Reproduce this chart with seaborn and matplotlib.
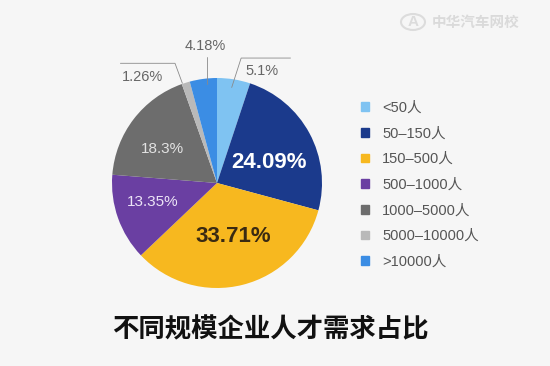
import matplotlib
matplotlib.use("Agg")
import matplotlib.pyplot as plt
import matplotlib.patches as mpatches
import seaborn as sns

# dati del grafico
categorie = ["<50人", "50–150人", "150–500人", "500–1000人", "1000–5000人", "5000–10000人", ">10000人"]
percentuali = [5.1, 24.09, 33.71, 13.35, 18.3, 1.26, 4.18]
colori = ["#7fc3f2", "#1b3a8c", "#f7b81f", "#6a3fa2", "#6d6d6d", "#b9b9b9", "#3b8de4"]
titolo = "不同规模企业人才需求占比"
marchio = "中华汽车网校"

sns.set_theme(style="white")
plt.rcParams["font.family"] = ["Liberation Sans", "Noto Sans CJK SC", "DejaVu Sans"]

sfondo = "#f6f6f6"
fig = plt.figure(figsize=(5.5, 3.66), dpi=100, facecolor=sfondo)

# torta: centro (217,183) px, raggio 105 px
ax = fig.add_axes([112 / 550, 1 - 288 / 366, 210 / 550, 210 / 366])
ax.set_facecolor(sfondo)
spicchi, _ = ax.pie(percentuali, colors=colori, startangle=90, counterclock=False,
                    wedgeprops=dict(linewidth=0))
ax.set_xlim(-1, 1)
ax.set_ylim(-1, 1)
ax.set_aspect("equal")
ax.axis("off")

etichette = [f"{p:g}%" for p in percentuali]

# etichette interne
ax.text(0.50, 0.20, etichette[1], color="white", fontsize=16, fontweight="bold", ha="center", va="center")
ax.text(0.15, -0.51, etichette[2], color="#3a2a12", fontsize=16, fontweight="bold", ha="center", va="center")
ax.text(-0.52, 0.32, etichette[4], color="#e2e2e2", fontsize=11, ha="center", va="center")
ax.text(-0.61, -0.18, etichette[3], color="#ece4f6", fontsize=11, ha="center", va="center")

# etichette esterne con linee guida
grigio = "#8a8a8a"
ax.plot([0.14, 0.23, 0.70], [0.91, 1.19, 1.19], color=grigio, lw=0.6, clip_on=False)
ax.text(0.43, 1.07, etichette[0], color="#666666", fontsize=10.5, ha="center", va="center")

ax.plot([-0.10, -0.10], [0.94, 1.20], color=grigio, lw=0.6, clip_on=False)
ax.text(-0.11, 1.30, etichette[6], color="#666666", fontsize=10.5, ha="center", va="center")

ax.plot([-0.33, -0.40, -0.92], [0.95, 1.14, 1.14], color=grigio, lw=0.6, clip_on=False)
ax.text(-0.71, 1.01, etichette[5], color="#666666", fontsize=10.5, ha="center", va="center")

# legenda
maniglie = [mpatches.Patch(color=c) for c in colori]
leg = fig.legend(maniglie, categorie, loc="upper left", bbox_to_anchor=(355 / 550, 1 - 95 / 366),
                 frameon=False, fontsize=10.5, handlelength=0.55, handleheight=0.55,
                 handletextpad=0.9, labelspacing=0.8, borderaxespad=0)
for t in leg.get_texts():
    t.set_color("#555555")

# titolo
fig.text(270 / 550, 1 - 330 / 366, titolo, fontsize=19, fontweight="bold", color="#111111",
         ha="center", va="center", family=["Noto Sans CJK SC", "DejaVu Sans"])

# marchio in alto a destra
logo = mpatches.Circle((413 / 550, 1 - 22 / 366), 12 / 550, transform=fig.transFigure,
                       facecolor="none", edgecolor="#dcdcdc", lw=1.5)
fig.patches.append(logo)
fig.text(413 / 550, 1 - 22 / 366, "A", fontsize=11, fontweight="bold", color="#dcdcdc",
         ha="center", va="center")
fig.text(476 / 550, 1 - 22 / 366, marchio, fontsize=10.5, fontweight="bold", color="#dadada",
         ha="center", va="center", family=["Noto Sans CJK SC", "DejaVu Sans"])

fig.savefig("out.png", dpi=100, facecolor=sfondo)
